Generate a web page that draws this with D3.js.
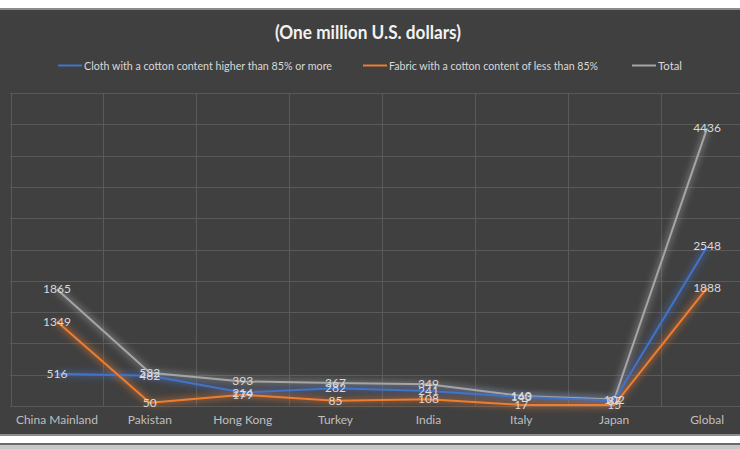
<!DOCTYPE html>
<html>
<head>
<meta charset="utf-8">
<script src="https://cdn.jsdelivr.net/npm/d3@7"></script>
<style>
  html, body { margin: 0; padding: 0; background: #ffffff; }
  svg { display: block; }
</style>
</head>
<body>
<div id="chartContainer"></div>
<script>
const categories = ["China Mainland", "Pakistan", "Hong Kong", "Turkey", "India", "Italy", "Japan", "Global"];
const cloth = [516, 482, 214, 282, 241, 143, 87, 2548];
const fabric = [1349, 50, 179, 85, 108, 17, 15, 1888];
const total = [1865, 532, 393, 367, 349, 160, 102, 4436];
const yTicks = [0, 500, 1000, 1500, 2000, 2500, 3000, 3500, 4000, 4500, 5000];

const seriesNames = [
  "Cloth with a cotton content higher than 85% or more",
  "Fabric with a cotton content of less than 85%",
  "Total"
];
const colors = ["#4472C4", "#ED7D31", "#A5A5A5"];
const series = [cloth, fabric, total];

const svgWidth = 740;
const svgHeight = 449;
const font = "Lato, 'Open Sans', 'DejaVu Sans', sans-serif";

const svg = d3.select("#chartContainer")
  .append("svg")
  .attr("width", svgWidth)
  .attr("height", svgHeight);

// frame like the screenshot
svg.append("rect").attr("x", 0).attr("y", 0).attr("width", svgWidth).attr("height", svgHeight).attr("fill", "#ffffff");
svg.append("rect").attr("x", 0).attr("y", 443).attr("width", svgWidth).attr("height", 6).attr("fill", "#c8c8c8");
svg.append("rect").attr("x", 0).attr("y", 443).attr("width", svgWidth).attr("height", 2).attr("fill", "#6a6a6a");
svg.append("rect").attr("x", 0).attr("y", 8).attr("width", svgWidth).attr("height", 428).attr("fill", "#8c8c8c");
svg.append("rect").attr("x", 0).attr("y", 10).attr("width", svgWidth).attr("height", 424).attr("fill", "#404040");

const defs = svg.append("defs");
defs.append("filter")
  .attr("id", "glow")
  .attr("x", "-20%").attr("y", "-20%").attr("width", "140%").attr("height", "140%")
  .append("feGaussianBlur")
  .attr("stdDeviation", 3);

const xScale = d3.scalePoint()
  .domain(categories)
  .range([10.5, 753.5])
  .padding(0.5);
const step = xScale.step();

const yScale = d3.scaleLinear()
  .domain([0, 5000])
  .range([406, 93]);

// horizontal gridlines
svg.append("g")
  .selectAll("line")
  .data(yTicks)
  .enter()
  .append("line")
  .attr("x1", 10)
  .attr("x2", svgWidth)
  .attr("y1", d => Math.round(yScale(d)) + 0.5)
  .attr("y2", d => Math.round(yScale(d)) + 0.5)
  .attr("stroke", "#595959")
  .attr("stroke-width", 1);

// vertical gridlines between categories
svg.append("g")
  .selectAll("line")
  .data(categories)
  .enter()
  .append("line")
  .attr("x1", d => Math.round(xScale(d) - step / 2) + 0.5)
  .attr("x2", d => Math.round(xScale(d) - step / 2) + 0.5)
  .attr("y1", yScale(5000))
  .attr("y2", yScale(0))
  .attr("stroke", "#595959")
  .attr("stroke-width", 1);

// title
svg.append("text")
  .attr("x", 368)
  .attr("y", 39)
  .attr("text-anchor", "middle")
  .attr("fill", "#f2f2f2")
  .style("font-family", font)
  .style("font-size", "18px")
  .style("font-weight", "bold")
  .attr("textLength", 186)
  .attr("lengthAdjust", "spacingAndGlyphs")
  .text("(One million U.S. dollars)");

// legend
const legendX = [58, 363, 632];
const legendTextLen = [248, 209, 24];
const legend = svg.append("g");
seriesNames.forEach((name, i) => {
  legend.append("line")
    .attr("x1", legendX[i])
    .attr("x2", legendX[i] + 24)
    .attr("y1", 65.5)
    .attr("y2", 65.5)
    .attr("stroke", colors[i])
    .attr("stroke-width", 2);
  legend.append("text")
    .attr("x", legendX[i] + 26)
    .attr("y", 69.5)
    .attr("fill", "#d9d9d9")
    .style("font-family", font)
    .style("font-size", "11.5px")
    .attr("textLength", legendTextLen[i])
    .attr("lengthAdjust", "spacingAndGlyphs")
    .text(name);
});

// lines
const lineGen = d3.line()
  .x((d, i) => xScale(categories[i]))
  .y(d => yScale(d));

const order = [2, 0, 1];
order.forEach(i => {
  svg.append("path")
    .datum(series[i])
    .attr("d", lineGen)
    .attr("fill", "none")
    .attr("stroke", colors[i])
    .attr("stroke-width", 6)
    .attr("stroke-opacity", 0.45)
    .attr("filter", "url(#glow)");
});
order.forEach(i => {
  svg.append("path")
    .datum(series[i])
    .attr("d", lineGen)
    .attr("fill", "none")
    .attr("stroke", colors[i])
    .attr("stroke-width", 2)
    .attr("stroke-linejoin", "round");
});

// data labels
order.forEach(i => {
  svg.append("g")
    .selectAll("text")
    .data(series[i])
    .enter()
    .append("text")
    .attr("x", (d, j) => xScale(categories[j]))
    .attr("y", d => yScale(d) + 4)
    .attr("text-anchor", "middle")
    .attr("fill", "#d9d9d9")
    .style("font-family", font)
    .style("font-size", "12px")
    .text(d => d);
});

// category labels
svg.append("g")
  .selectAll("text")
  .data(categories)
  .enter()
  .append("text")
  .attr("x", d => xScale(d))
  .attr("y", 424)
  .attr("text-anchor", "middle")
  .attr("fill", "#bfbfbf")
  .style("font-family", font)
  .style("font-size", "12px")
  .text(d => d);
</script>
</body>
</html>
